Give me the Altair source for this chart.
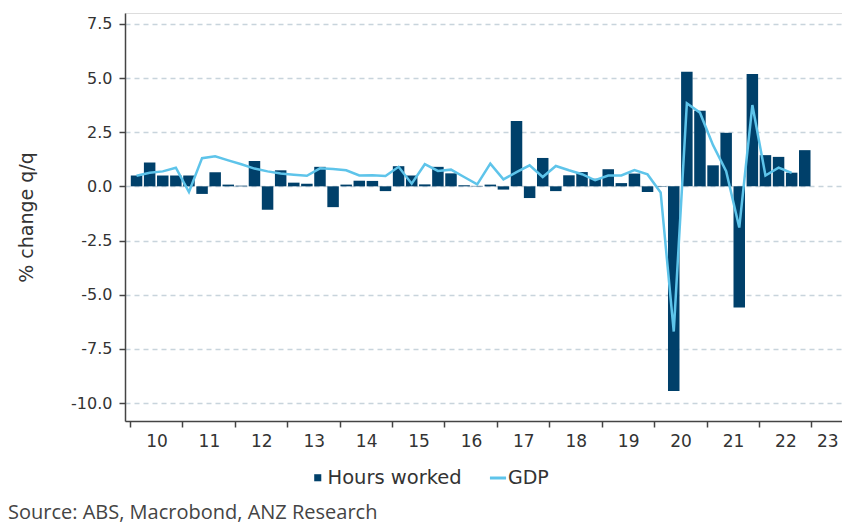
import altair as alt
import pandas as pd

# ---------------- data (quarterly, % change q/q) ----------------
start_year = 2010
hours_worked = [
    0.50, 1.10, 0.50, 0.50,    # 2010
    0.50, -0.35, 0.65, 0.08,   # 2011
    0.03, 1.17, -1.08, 0.74,   # 2012
    0.17, 0.12, 0.90, -0.96,   # 2013
    0.08, 0.26, 0.25, -0.22,   # 2014
    0.93, 0.50, 0.09, 0.90,    # 2015
    0.60, 0.05, 0.02, 0.08,    # 2016
    -0.15, 3.02, -0.54, 1.31,  # 2017
    -0.22, 0.51, 0.66, 0.35,   # 2018
    0.79, 0.15, 0.59, -0.26,   # 2019
    -0.02, -9.45, 5.29, 3.49,  # 2020
    0.97, 2.47, -5.59, 5.19,   # 2021
    1.44, 1.36, 0.63, 1.67,    # 2022
]
gdp = [
    0.49, 0.63, 0.69, 0.86,    # 2010
    -0.26, 1.30, 1.39, 1.20,   # 2011
    1.02, 0.82, 0.69, 0.59,    # 2012
    0.54, 0.49, 0.83, 0.80,    # 2013
    0.74, 0.50, 0.51, 0.48,    # 2014
    0.90, 0.12, 1.02, 0.71,    # 2015
    0.77, 0.43, 0.09, 1.05,    # 2016
    0.32, 0.66, 0.97, 0.43,    # 2017
    0.94, 0.74, 0.56, 0.28,    # 2018
    0.50, 0.50, 0.75, 0.55,    # 2019
    -0.28, -6.70, 3.83, 3.40,  # 2020
    1.90, 0.70, -1.90, 3.75,   # 2021
    0.50, 0.86, 0.62,          # 2022
]
year_ticks = list(range(2010, 2024))
y_ticks = [-10.0, -7.5, -5.0, -2.5, 0.0, 2.5, 5.0, 7.5]
series_names = ["Hours worked", "GDP"]
source_text = "Source: ABS, Macrobond, ANZ Research"
y_title = "% change q/q"

# quarter index -> time value (centre of the quarter)
bars_df = pd.DataFrame({
    "t": [start_year + i / 4 + 0.125 for i in range(len(hours_worked))],
    "value": hours_worked,
    "series": series_names[0],
})
gdp_df = pd.DataFrame({
    "t": [start_year + i / 4 + 0.125 for i in range(len(gdp))],
    "value": gdp,
    "series": series_names[1],
})

BAR = "#00406a"
LINE = "#5ec4ea"
TXT = "#333333"
FONT = "DejaVu Sans"

x_scale = alt.Scale(domain=[2010, 2023.49], nice=False, zero=False)
y_scale = alt.Scale(domain=[-10.83, 8.0], nice=False, zero=False)

x_axis = alt.Axis(
    values=year_ticks, title=None, grid=False, format="d",
    labelExpr="substring(toString(datum.value), 2, 4)",
    labelOffset={"condition": {"test": "datum.value == 2023", "value": 16}, "value": 26.5},
    tickSize=6, labelPadding=6,
    domainColor="#444444", domainWidth=1.5, tickColor="#444444", tickWidth=1.5,
    labelFontSize=17, labelColor=TXT, labelFont=FONT,
)
y_axis = alt.Axis(
    values=y_ticks, title=y_title,
    labelExpr="datum.value < 0 ? '-' + format(-datum.value, '.1f') : format(datum.value, '.1f')",
    grid=True, gridDash=[5, 4], gridColor="#c8d4dc", gridWidth=1.5,
    tickSize=6, labelPadding=7, tickColor="#444444", tickWidth=1.5,
    domainColor="#444444", domainWidth=1.5,
    labelFontSize=16, labelColor=TXT, labelFont=FONT,
    titleFontSize=19, titleColor=TXT, titleFont=FONT, titleFontWeight="normal",
    titlePadding=34,
)

bars = alt.Chart(bars_df).mark_bar(size=11.5).encode(
    x=alt.X("t:Q", scale=x_scale, axis=x_axis),
    y=alt.Y("value:Q", scale=y_scale, axis=y_axis),
    fill=alt.Fill(
        "series:N",
        scale=alt.Scale(domain=[series_names[0]], range=[BAR]),
        legend=alt.Legend(
            orient="none", legendX=183, legendY=455, title=None,
            symbolType="square", symbolSize=50, labelOffset=0,
            labelFontSize=19.5, labelColor=TXT, labelFont=FONT,
        ),
    ),
)

line = alt.Chart(gdp_df).mark_line(strokeWidth=2.5).encode(
    x=alt.X("t:Q", scale=x_scale),
    y=alt.Y("value:Q", scale=y_scale),
    stroke=alt.Stroke(
        "series:N",
        scale=alt.Scale(domain=[series_names[1]], range=[LINE]),
        legend=alt.Legend(
            orient="none", legendX=363, legendY=455, title=None,
            symbolType="stroke", symbolSize=260, symbolStrokeWidth=3,
            labelOffset=0, labelFontSize=19, labelColor=TXT, labelFont=FONT,
        ),
    ),
)

source = alt.Chart(pd.DataFrame({"text": [source_text]})).mark_text(
    align="left", baseline="alphabetic", fontSize=20, font="Open Sans", color="#444444"
).encode(x=alt.value(-117), y=alt.value(506), text="text:N")

chart = alt.layer(bars, line, source).properties(
    width=717, height=408,
    autosize=alt.AutoSizeParams(type="none"),
    padding={"left": 117, "top": 5, "right": 0, "bottom": 103},
).configure_view(stroke=None).configure(background="white")

chart.save("out.html", embed_options={"renderer": "svg", "actions": False})
